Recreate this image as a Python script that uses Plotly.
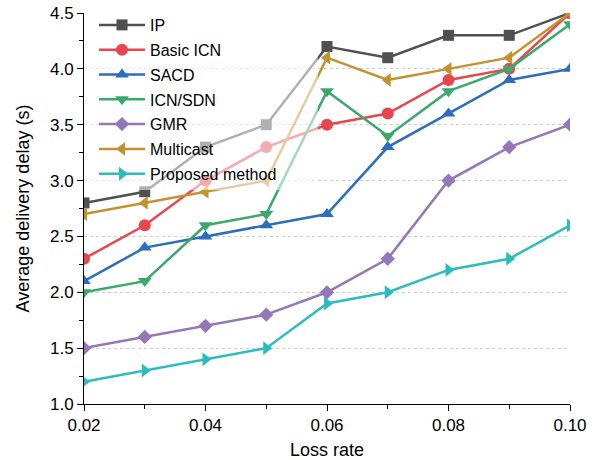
import plotly.graph_objects as go

loss_rate = [0.02, 0.03, 0.04, 0.05, 0.06, 0.07, 0.08, 0.09, 0.10]
ip = [2.8, 2.9, 3.3, 3.5, 4.2, 4.1, 4.3, 4.3, 4.5]
basic_icn = [2.3, 2.6, 3.0, 3.3, 3.5, 3.6, 3.9, 4.0, 4.5]
sacd = [2.1, 2.4, 2.5, 2.6, 2.7, 3.3, 3.6, 3.9, 4.0]
icn_sdn = [2.0, 2.1, 2.6, 2.7, 3.8, 3.4, 3.8, 4.0, 4.4]
gmr = [1.5, 1.6, 1.7, 1.8, 2.0, 2.3, 3.0, 3.3, 3.5]
multicast = [2.7, 2.8, 2.9, 3.0, 4.1, 3.9, 4.0, 4.1, 4.5]
proposed = [1.2, 1.3, 1.4, 1.5, 1.9, 2.0, 2.2, 2.3, 2.6]

series = [
    ("IP", ip, "#505050", "square", 11),
    ("Basic ICN", basic_icn, "#e8464f", "circle", 12),
    ("SACD", sacd, "#2a6ebd", "triangle-up", 12),
    ("ICN/SDN", icn_sdn, "#3ba86c", "triangle-down", 12),
    ("GMR", gmr, "#9477b7", "diamond", 11),
    ("Multicast", multicast, "#c4912e", "triangle-left", 12),
    ("Proposed method", proposed, "#2bbcbe", "triangle-right", 12),
]

FONT = "Arial, 'Liberation Sans', sans-serif"

fig = go.Figure()
for name, vals, color, sym, size in series:
    fig.add_trace(go.Scatter(
        x=loss_rate, y=vals, name=name, mode="lines+markers",
        legendgroup=name,
        line=dict(color=color, width=2.5),
        marker=dict(symbol=sym, size=size, color=color, line=dict(width=0)),
    ))

# plot area: x 84..570, y 13..404 ; paper height = 460-7-56 = 397
DOM_TOP = (404 - 13) / 397

fig.add_shape(type="rect", xref="paper", yref="paper",
              x0=0, x1=0.481, y0=(404 - 190) / 397, y1=DOM_TOP,
              fillcolor="rgba(255,255,255,0.55)", line=dict(width=0),
              layer="above")

fig.update_layout(
    width=595, height=460,
    margin=dict(l=84, r=25, t=7, b=56),
    paper_bgcolor="white", plot_bgcolor="white",
    font=dict(family=FONT, color="black", size=17),
    showlegend=True,
    legend=dict(
        x=0.0206, y=(404 - 8) / 397, xanchor="left", yanchor="top",
        bgcolor="rgba(0,0,0,0)", borderwidth=0,
        font=dict(size=16, family=FONT),
        itemwidth=46, traceorder="grouped", tracegroupgap=1,
    ),
    xaxis=dict(
        range=[0.02, 0.10], tick0=0.02, dtick=0.02, tickformat=".2f",
        showline=True, linecolor="black", linewidth=1,
        ticks="outside", ticklen=6, tickcolor="black",
        minor=dict(ticks="outside", ticklen=4, dtick=0.01, tickcolor="black"),
        showgrid=False, zeroline=False, automargin=False,
        title=dict(text="Loss rate", font=dict(size=18), standoff=8),
        tickfont=dict(size=17),
    ),
    yaxis=dict(
        domain=[0, DOM_TOP],
        range=[1.0, 4.5], tick0=1.0, dtick=0.5, tickformat=".1f",
        showline=True, linecolor="black", linewidth=1,
        ticks="outside", ticklen=6, tickcolor="black",
        minor=dict(ticks="outside", ticklen=4, dtick=0.25, tickcolor="black", showgrid=False),
        showgrid=True, gridcolor="#cccccc", griddash="dot", gridwidth=1,
        zeroline=False, automargin=False,
        title=dict(text="Average delivery delay (s)", font=dict(size=18)),
        tickfont=dict(size=17),
    ),
)

fig.write_html("out.html")
